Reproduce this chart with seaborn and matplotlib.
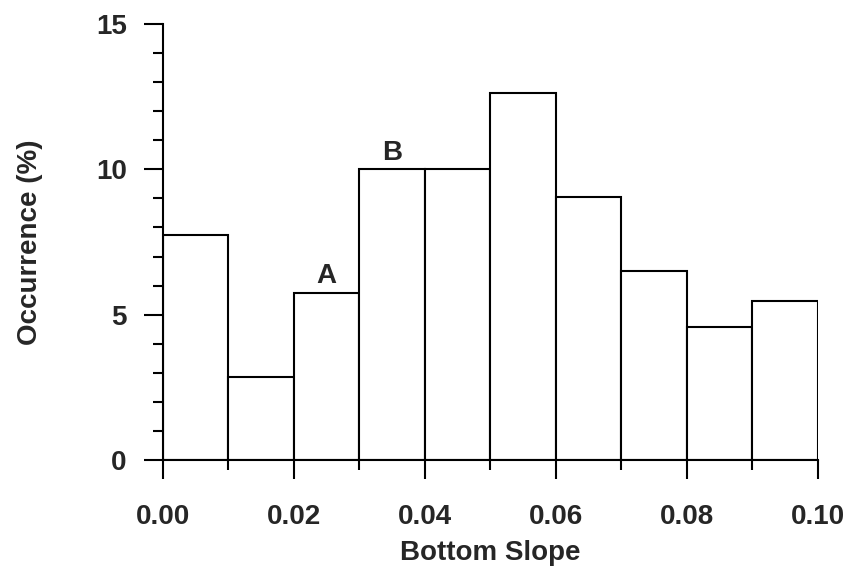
import numpy as np
import matplotlib
matplotlib.use("Agg")
import matplotlib.pyplot as plt
import seaborn as sns
from matplotlib.ticker import MultipleLocator

# Histogram of bottom slope (bin edges 0.00 .. 0.10, step 0.01)
bin_edges = [0.00, 0.01, 0.02, 0.03, 0.04, 0.05, 0.06, 0.07, 0.08, 0.09, 0.10]
bin_centers = [0.005, 0.015, 0.025, 0.035, 0.045, 0.055, 0.065, 0.075, 0.085, 0.095]
occurrence = [7.75, 2.87, 5.75, 10.0, 10.0, 12.62, 9.06, 6.5, 4.58, 5.48]
labels = {"A": 2, "B": 3}

sns.set_style("ticks")
plt.rcParams["font.family"] = ["Liberation Sans", "DejaVu Sans"]
plt.rcParams["font.weight"] = "bold"

fig = plt.figure(figsize=(8.55, 5.76), dpi=100)
ax = fig.add_axes([0.1906, 0.2014, 0.7661, 0.7569])

sns.histplot(x=bin_centers, weights=occurrence, bins=bin_edges, ax=ax,
             color="white", edgecolor="black", linewidth=1.5, alpha=1)

for txt, i in labels.items():
    ax.text(bin_centers[i], occurrence[i] + 0.12, txt, ha="center", va="bottom",
            fontsize=20, fontweight="bold")

ax.set_xlim(0, 0.10)
ax.set_ylim(0, 15)
ax.xaxis.set_major_locator(MultipleLocator(0.02))
ax.xaxis.set_minor_locator(MultipleLocator(0.01))
ax.yaxis.set_major_locator(MultipleLocator(5))
ax.yaxis.set_minor_locator(MultipleLocator(1))
ax.xaxis.set_major_formatter(matplotlib.ticker.FormatStrFormatter("%.2f"))

for s in ["top", "right"]:
    ax.spines[s].set_visible(False)
for s in ["left", "bottom"]:
    ax.spines[s].set_linewidth(1.5)
    ax.spines[s].set_color("black")

ax.tick_params(which="major", length=14, width=1.5, color="black",
               labelsize=20, pad=12)
ax.tick_params(axis="x", which="major", pad=18)
ax.tick_params(which="minor", length=7, width=1.5, color="black")
ax.set_xlabel("Bottom Slope", fontsize=20, fontweight="bold", labelpad=7)
ax.set_ylabel("Occurrence (%)", fontsize=20, fontweight="bold", labelpad=38)

plt.savefig("out.png", dpi=100)
